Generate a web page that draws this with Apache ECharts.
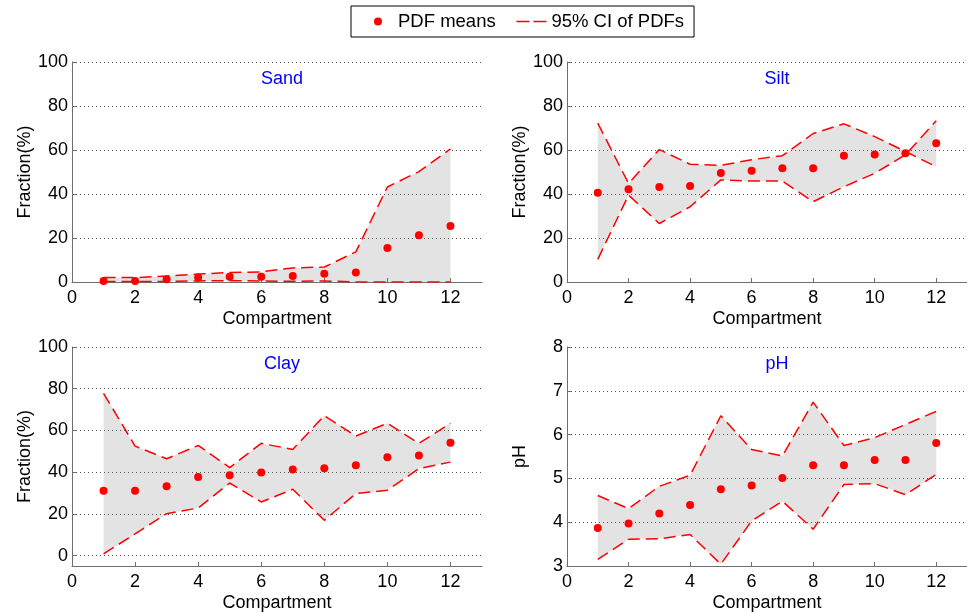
<!DOCTYPE html>
<html>
<head>
<meta charset="utf-8">
<script src="https://cdn.jsdelivr.net/npm/echarts@6/dist/echarts.min.js"></script>
<style>
  html, body { margin: 0; padding: 0; background: #fff; }
  #chart { width: 967px; height: 613px; }
</style>
</head>
<body>
<div id="chart"></div>
<script>
// compartments 1..12
const compartments = [1, 2, 3, 4, 5, 6, 7, 8, 9, 10, 11, 12];

// Sand
const sandMean = [0.5, 0.5, 1.2, 2.0, 2.4, 2.4, 2.7, 3.8, 4.3, 15.5, 21.3, 25.4];
const sandUpper = [2.0, 2.0, 2.7, 3.6, 4.3, 4.6, 6.4, 6.8, 13.7, 43.2, 50.2, 60.5];
const sandLower = [0.2, 0.2, 0.3, 0.5, 0.6, 0.5, 0.3, 0.5, 0, 0, 0, 0];

// Silt
const siltMean = [40.6, 42.2, 43.2, 43.6, 49.5, 50.6, 51.7, 51.7, 57.4, 57.9, 58.5, 63.1];
const siltUpper = [72.2, 44.8, 60.2, 53.5, 53.0, 55.6, 57.4, 67.5, 71.9, 66.1, 59.3, 52.4];
const siltLower = [10.3, 39.5, 26.6, 34.2, 46.4, 45.9, 45.9, 36.5, 43.3, 49.4, 57.8, 73.3];

// Clay
const clayMean = [31.1, 31.1, 33.2, 37.7, 38.5, 39.8, 41.3, 41.9, 43.3, 47.2, 48.0, 54.1];
const clayUpper = [77.8, 52.5, 46.4, 52.8, 42.2, 53.8, 50.9, 67.1, 57.3, 63.4, 53.8, 63.4];
const clayLower = [0.8, 10.4, 20.1, 22.8, 34.8, 25.7, 31.8, 16.9, 29.7, 31.3, 41.7, 44.8];

// pH
const phMean = [3.87, 3.97, 4.20, 4.39, 4.75, 4.84, 5.01, 5.30, 5.30, 5.42, 5.42, 5.81];
const phUpper = [4.61, 4.31, 4.82, 5.07, 6.43, 5.66, 5.51, 6.74, 5.75, 5.93, 6.23, 6.53];
const phLower = [3.15, 3.61, 3.62, 3.72, 3.04, 4.03, 4.48, 3.84, 4.86, 4.88, 4.63, 5.09];

const xTicks = [0, 2, 4, 6, 8, 10, 12];
const fracTicks = [0, 20, 40, 60, 80, 100];
const phTicks = [3, 4, 5, 6, 7, 8];

const FONT = 'Arial, "Liberation Sans", sans-serif';
const RED = '#ff0000';
const AXIS_GRAY = '#6e6e6e';

const panels = [
  {title: 'Sand', name: 'Fraction(%)', mean: sandMean, upper: sandUpper, lower: sandLower, min: 0, max: 100, ticks: fracTicks, left: 72, top: 62},
  {title: 'Silt', name: 'Fraction(%)', mean: siltMean, upper: siltUpper, lower: siltLower, min: 0, max: 100, ticks: fracTicks, left: 567, top: 62},
  {title: 'Clay', name: 'Fraction(%)', mean: clayMean, upper: clayUpper, lower: clayLower, min: -5, max: 100, ticks: fracTicks, left: 72, top: 347},
  {title: 'pH', name: 'pH', mean: phMean, upper: phUpper, lower: phLower, min: 3, max: 8, ticks: phTicks, left: 567, top: 347}
];

const grids = [], xAxes = [], yAxes = [], titles = [], series = [];

panels.forEach(function (p, i) {
  grids.push({left: p.left, top: p.top, width: 410, height: 220, containLabel: false});
  titles.push({
    text: p.title,
    left: p.left + 205, top: p.top + 3, textAlign: 'center',
    textStyle: {color: '#0000ff', fontSize: 18, fontWeight: 'normal', fontFamily: FONT}
  });
  xAxes.push({
    type: 'value', gridIndex: i, min: 0, max: 13,
    name: 'Compartment', nameLocation: 'middle', nameGap: 28,
    nameTextStyle: {color: '#000', fontSize: 18, fontFamily: FONT},
    axisLine: {show: true, onZero: false, lineStyle: {color: AXIS_GRAY, width: 1}},
    axisTick: {show: true, inside: true, length: 4, customValues: xTicks, lineStyle: {color: AXIS_GRAY}},
    axisLabel: {customValues: xTicks, color: '#000', fontSize: 18, fontFamily: FONT, margin: 7},
    splitLine: {show: false}
  });
  yAxes.push({
    type: 'value', gridIndex: i, min: p.min, max: p.max,
    name: p.name, nameLocation: 'middle', nameGap: 38, nameRotate: 90,
    nameTextStyle: {color: '#000', fontSize: 18, fontFamily: FONT},
    axisLine: {show: true, onZero: false, lineStyle: {color: AXIS_GRAY, width: 1}},
    axisTick: {show: true, inside: true, length: 4, customValues: p.ticks, lineStyle: {color: AXIS_GRAY}},
    axisLabel: {customValues: p.ticks, color: '#000', fontSize: 18, fontFamily: FONT, margin: 4},
    splitLine: {show: true, lineStyle: {color: '#555', width: 1, type: [1, 3]}}
  });

  // grey band between the CI bounds
  series.push({
    type: 'custom', xAxisIndex: i, yAxisIndex: i, z: -1, silent: true,
    data: [0],
    renderItem: function (params, api) {
      const pts = [];
      compartments.forEach(function (c, k) { pts.push(api.coord([c, p.upper[k]])); });
      for (let k = compartments.length - 1; k >= 0; k--) pts.push(api.coord([compartments[k], p.lower[k]]));
      return {type: 'polygon', shape: {points: pts}, style: {fill: '#e3e3e3', stroke: null}};
    }
  });
  [p.upper, p.lower].forEach(function (arr) {
    series.push({
      name: '95% CI of PDFs', type: 'line', xAxisIndex: i, yAxisIndex: i,
      data: compartments.map(function (c, k) { return [c, arr[k]]; }),
      symbol: 'none', silent: true,
      lineStyle: {color: RED, width: 1.5, type: [12, 6]},
      itemStyle: {color: RED}
    });
  });
  series.push({
    name: 'PDF means', type: 'scatter', xAxisIndex: i, yAxisIndex: i,
    data: compartments.map(function (c, k) { return [c, p.mean[k]]; }),
    symbol: 'circle', symbolSize: 8, itemStyle: {color: RED, opacity: 1}, z: 5
  });
});

const chart = echarts.init(document.getElementById('chart'), null, {renderer: 'canvas'});
chart.setOption({
  backgroundColor: '#fff',
  animation: false,
  title: titles,
  legend: {
    left: 351, top: 6,
    padding: [6, 10, 6, 23],
    borderColor: '#000', borderWidth: 1,
    itemWidth: 30, itemHeight: 8, itemGap: 20,
    textStyle: {color: '#000', fontSize: 18.5, fontFamily: FONT},
    data: [
      {name: 'PDF means', icon: 'circle', itemStyle: {opacity: 1}},
      {name: '95% CI of PDFs', itemStyle: {opacity: 0}, lineStyle: {type: [13, 4], width: 1.5}}
    ]
  },
  grid: grids,
  xAxis: xAxes,
  yAxis: yAxes,
  series: series
});
</script>
</body>
</html>
